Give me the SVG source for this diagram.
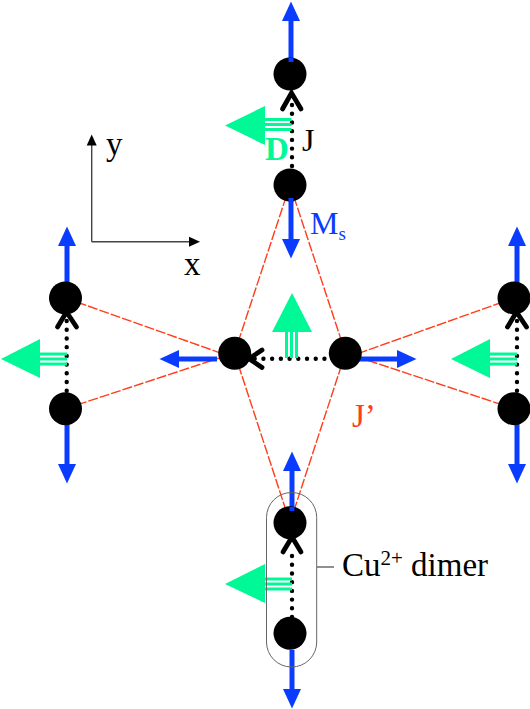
<svg xmlns="http://www.w3.org/2000/svg" width="530" height="709" viewBox="0 0 530 709">
<style>
text{font-family:"Liberation Serif","Times New Roman",serif}
.ion{fill:#000}
.spin{stroke:#0a3cff;stroke-width:5;fill:none;marker-end:url(#bh)}
.bond{stroke:#000;stroke-width:4.4;stroke-linecap:round;stroke-dasharray:0 8.72;fill:none}
.chev{stroke:#000;stroke-width:4.8;stroke-linecap:round;stroke-linejoin:miter;fill:none}
.jp{stroke:#ff3d1a;stroke-width:1.4;stroke-dasharray:10 2;fill:none}
.dm{fill:#00f996}
.dl{stroke:#00f996;stroke-width:3;fill:none}
.ax{stroke:#444;stroke-width:1.4;fill:none;marker-end:url(#ah)}
</style>
<defs>
<marker id="bh" markerUnits="userSpaceOnUse" markerWidth="20" markerHeight="19" viewBox="0 0 20 19" refX="1" refY="9.5" orient="auto"><path d="M0 0.500L19.500 9.500L0 18.500Z" fill="#0a3cff"/></marker>
<marker id="ah" markerUnits="userSpaceOnUse" markerWidth="12" markerHeight="12" viewBox="0 0 12 12" refX="1" refY="6" orient="auto"><path d="M0 1L11 6L0 11Z" fill="#000"/></marker>
</defs>
<g id="connectors">
<g id="j-prime">
<path class="jp" d="M290 185L234.500 353M290 185L345.500 353M290 522.700L234.500 353M290 522.700L345.500 353"/>
<path class="jp" d="M65.500 298L234.500 358M65.500 408.700L234.500 353M514 298L345.500 358M514 408.700L345.500 353"/>
</g>
<g id="spins">
<path class="spin" d="M291 60V20"/><path class="spin" d="M291 198V240"/>
<path class="spin" d="M217 359H178"/><path class="spin" d="M358 359H398"/>
<path class="spin" d="M67 284V245"/><path class="spin" d="M67 423V465"/>
<path class="spin" d="M517 284V245"/><path class="spin" d="M517 423V465"/>
<path class="spin" d="M292 509V470"/><path class="spin" d="M292 650V690"/>
</g>
<g id="bonds">
<path class="bond" d="M292 105V170"/><path class="chev" d="M282.500 109L291.500 93L301 109"/>
<path class="bond" d="M254.700 358.700H326"/><path class="chev" d="M262 350L249 358.700L262 367.500"/>
<path class="bond" d="M66.700 321V395"/><path class="chev" d="M57.500 327L66.500 312L76.500 327"/>
<path class="bond" d="M517 321V395"/><path class="chev" d="M507.500 327L516.500 312L526.500 327"/>
<path class="bond" d="M292 556V620"/><path class="chev" d="M283 552L292 537L301 552"/>
</g>
<g id="dm-vectors">
<path class="dm" d="M225 125.500L265 106V145Z"/><path class="dl" d="M265 119.500H291.500M265 124.500H291.500M265 129.500H291.500"/>
<path class="dm" d="M292 293L312 332H272Z"/><path class="dl" d="M286.500 332V358M291.500 332V358M296.500 332V358"/>
<path class="dm" d="M1 359L40 339V378Z"/><path class="dl" d="M40 354H67M40 359H67M40 364H67"/>
<path class="dm" d="M451 359L490 339V378Z"/><path class="dl" d="M490 354H517M490 359H517M490 364H517"/>
<path class="dm" d="M225 584L265 564V603Z"/><path class="dl" d="M265 579H292M265 584H292M265 589H292"/>
</g>
<g id="axes">
<path class="ax" d="M91.700 241.700V144.500"/><path class="ax" d="M91.700 241.700H190"/>
</g>
<path id="dimer-leader" d="M317 567H334" stroke="#444" stroke-width="1.200" fill="none"/>
</g>
<g id="dimer-box"><rect x="266.500" y="492.500" width="50.200" height="174.500" rx="25" ry="25" fill="none" stroke="#666" stroke-width="1"/></g>
<g id="n1"><circle class="ion" cx="290" cy="74" r="16.500"/></g>
<g id="n2"><circle class="ion" cx="290" cy="185" r="16.500"/></g>
<g id="n3"><circle class="ion" cx="234.700" cy="353.300" r="16.500"/></g>
<g id="n4"><circle class="ion" cx="345.300" cy="353.300" r="16.500"/></g>
<g id="n5"><circle class="ion" cx="65.500" cy="298" r="16.500"/></g>
<g id="n6"><circle class="ion" cx="65.500" cy="408.700" r="16.500"/></g>
<g id="n7"><circle class="ion" cx="514" cy="298" r="16.500"/></g>
<g id="n8"><circle class="ion" cx="514" cy="408.700" r="16.500"/></g>
<g id="n9"><circle class="ion" cx="290" cy="522.700" r="16.500"/></g>
<g id="n10"><circle class="ion" cx="290" cy="633.300" r="16.500"/></g>
<g id="spin-overlay">
<path d="M291 62V58M291 198V202M292 511V507" stroke="#0a3cff" stroke-width="5" fill="none"/>
</g>
<g id="labels">
<text x="265" y="160" font-size="33" font-weight="bold" fill="#00f996">D</text>
<text x="302" y="151" font-size="32" fill="#000">J</text>
<text x="310" y="234" font-size="32" fill="#0a3cff">M<tspan font-size="19" dy="6">s</tspan></text>
<text x="352" y="427" font-size="33" fill="#ff3d1a">J’</text>
<text x="106" y="155" font-size="33" fill="#000">y</text>
<text x="184" y="275" font-size="33" fill="#000">x</text>
<text x="342" y="576" font-size="33" fill="#000">Cu<tspan font-size="21" dy="-11">2+</tspan><tspan dy="11"> dimer</tspan></text>
</g>
</svg>
